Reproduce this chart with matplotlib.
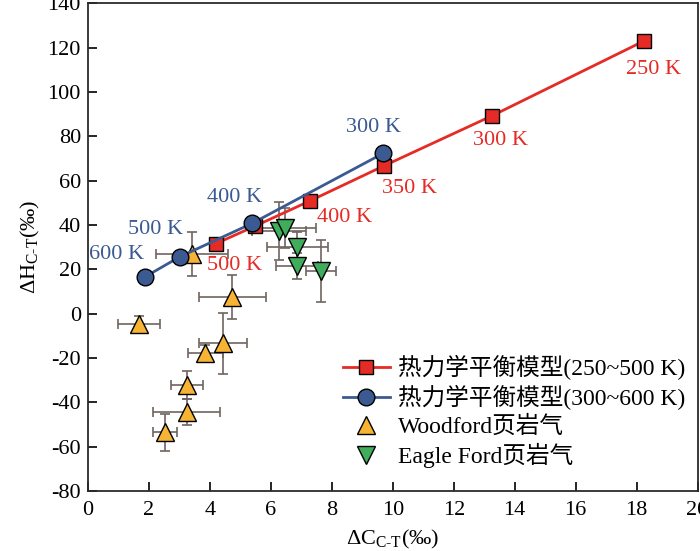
import numpy as np
import matplotlib
matplotlib.use('Agg')
import matplotlib.pyplot as plt
from matplotlib.lines import Line2D

# ==========================================
# 0. 字体
# ==========================================
plt.rcParams['font.family'] = ['Liberation Serif', 'Noto Sans CJK SC']
plt.rcParams['font.size'] = 15
plt.rcParams['mathtext.fontset'] = 'custom'
plt.rcParams['mathtext.rm'] = 'Liberation Serif'
plt.rcParams['axes.unicode_minus'] = False

# ==========================================
# 1. 数据
# ==========================================
# 热力学平衡模型 (250~500 K)
red_T = ['250 K', '300 K', '350 K', '400 K', '', '500 K']
red_dC = [18.25, 13.26, 9.71, 7.27, 5.48, 4.20]
red_dH = [123.1, 89.3, 66.7, 50.8, 39.5, 31.6]

# 热力学平衡模型 (300~600 K)
blue_T = ['300 K', '400 K', '500 K', '600 K']
blue_dC = [9.68, 5.38, 3.02, 1.87]
blue_dH = [72.3, 40.7, 25.7, 16.6]

# Woodford页岩气
wf_dC = [3.41, 4.74, 1.67, 4.44, 3.85, 3.24, 3.24, 2.53]
wf_dH = [26.9, 7.6, -4.7, -13.4, -17.6, -32.2, -44.2, -53.5]
wf_xerr = [1.18, 1.09, 0.68, 0.79, 0.58, 0.53, 1.10, 0.39]
wf_yerr = [10.1, 9.8, 3.8, 13.7, 3.6, 6.4, 5.9, 8.3]

# Eagle Ford页岩气
ef_dC = [6.27, 6.47, 6.86, 6.86, 7.65]
ef_dH = [37.3, 38.6, 30.0, 21.5, 19.2]
ef_xerr = [0.9, 1.0, 1.0, 0.7, 0.5]
ef_yerr = [13.0, 9.0, 7.0, 6.0, 14.0]

# 标注偏移 (像素)
red_off = [(9, -29), (8, -25), (26, -23), (35, -16), (0, 0), (19, -22)]
blue_off = [(-10, 26), (-17, 26), (-24, 27), (-28, 22)]

c_red = '#E52B25'
c_blue = '#3B5A91'
c_orange = '#F7B334'
c_green = '#3FAD5C'
c_err = '#6F6560'

# ==========================================
# 2. 绘图
# ==========================================
fig = plt.figure(figsize=(7.0, 5.51), dpi=100)
ax = fig.add_axes([0.1256, 0.1089, 0.871, 0.885])

ax.errorbar(wf_dC, wf_dH, xerr=wf_xerr, yerr=wf_yerr, fmt='none',
            ecolor=c_err, elinewidth=1.2, capsize=3.5, capthick=1.2, zorder=2)
ax.errorbar(ef_dC, ef_dH, xerr=ef_xerr, yerr=ef_yerr, fmt='none',
            ecolor=c_err, elinewidth=1.2, capsize=3.5, capthick=1.2, zorder=2)

ax.plot(wf_dC, wf_dH, '^', ms=13, mfc=c_orange, mec='black', mew=1.0, zorder=3)
ax.plot(ef_dC, ef_dH, 'v', ms=13, mfc=c_green, mec='black', mew=1.0, zorder=3)

ax.plot(red_dC, red_dH, '-s', color=c_red, lw=2, ms=10.5,
        mfc=c_red, mec='black', mew=1.0, zorder=4)
ax.plot(blue_dC, blue_dH, '-o', color=c_blue, lw=2, ms=12,
        mfc=c_blue, mec='black', mew=1.0, zorder=4)

for t, x, y, off in zip(red_T, red_dC, red_dH, red_off):
    if t:
        ax.annotate(t, (x, y), xytext=off, textcoords='offset pixels',
                    ha='center', va='center', color=c_red, fontsize=16)
for t, x, y, off in zip(blue_T, blue_dC, blue_dH, blue_off):
    ax.annotate(t, (x, y), xytext=off, textcoords='offset pixels',
                ha='center', va='center', color=c_blue, fontsize=16)

ax.set_xlim(0, 20)
ax.set_ylim(-80, 140)
ax.set_xticks(np.arange(0, 21, 2))
ax.set_yticks(np.arange(-80, 141, 20))
ax.tick_params(direction='in', length=6.5, width=1.2, labelsize=16)
ax.tick_params(axis='x', pad=7)
ax.tick_params(axis='y', pad=5)
for sp in ax.spines.values():
    sp.set_linewidth(1.3)
    sp.set_color('#2b2b2b')

ax.set_xlabel(r'ΔC$_{\mathrm{C\text{-}T}}$(‰)', fontsize=16, labelpad=6)
ax.set_ylabel(r'ΔH$_{\mathrm{C\text{-}T}}$(‰)', fontsize=16, labelpad=4)

handles = [
    Line2D([], [], color=c_red, lw=2, marker='s', ms=10.5, mfc=c_red, mec='black'),
    Line2D([], [], color=c_blue, lw=2, marker='o', ms=12, mfc=c_blue, mec='black'),
    Line2D([], [], ls='none', marker='^', ms=13, mfc=c_orange, mec='black'),
    Line2D([], [], ls='none', marker='v', ms=13, mfc=c_green, mec='black'),
]
labels = ['热力学平衡模型(250~500 K)', '热力学平衡模型(300~600 K)',
          'Woodford页岩气', 'Eagle Ford页岩气']
ax.legend(handles, labels, loc='upper left', bbox_to_anchor=(0.418, 0.279),
          frameon=False, fontsize=17, handlelength=2.0, handletextpad=0.33,
          labelspacing=0.22, borderaxespad=0, borderpad=0)

plt.savefig('out.png', dpi=100)
